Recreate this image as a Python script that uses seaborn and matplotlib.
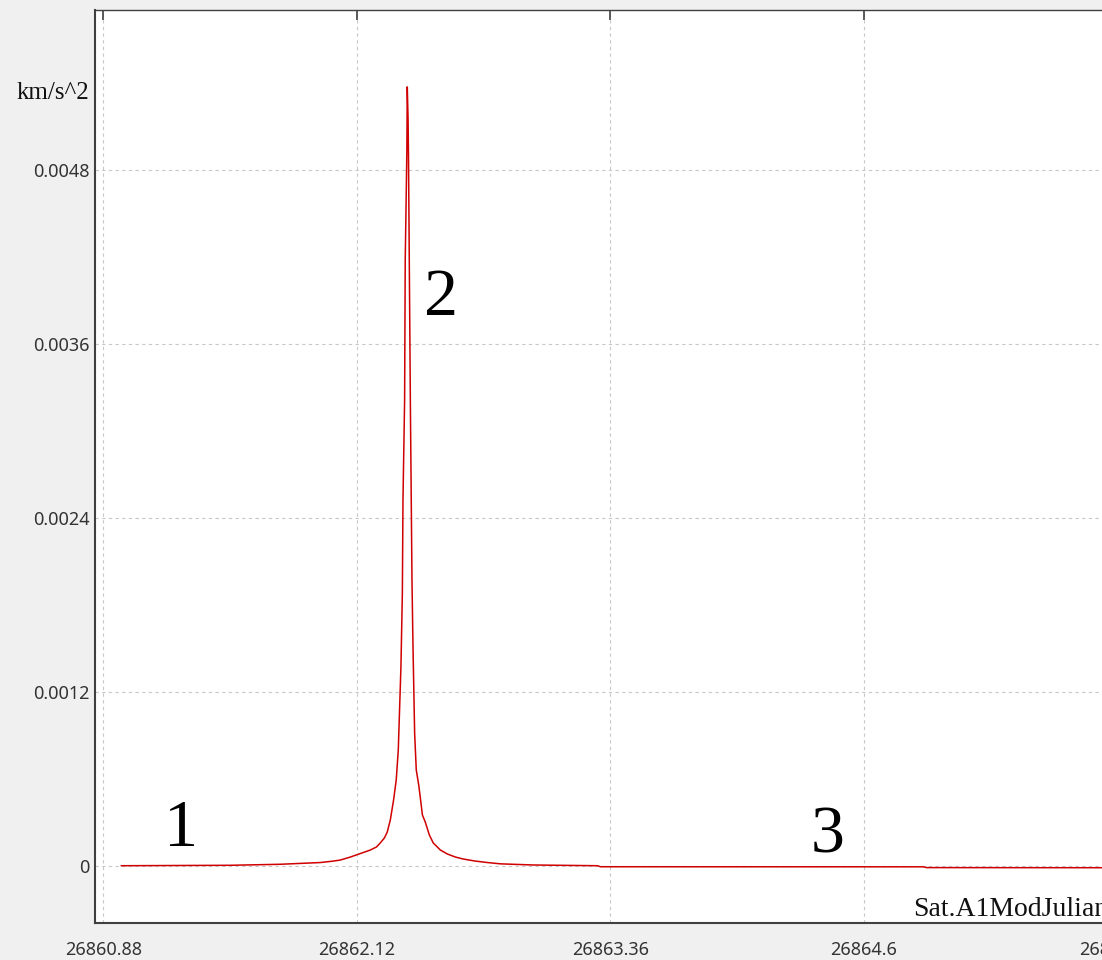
import matplotlib
matplotlib.use("Agg")
import matplotlib.pyplot as plt
import seaborn as sns
import pandas as pd

# ---- data ----
mjd = [26860.968, 26861.501, 26861.746, 26861.942, 26862.000, 26862.039,
       26862.089, 26862.186, 26862.216, 26862.235, 26862.255, 26862.269,
       26862.284, 26862.300, 26862.313, 26862.323, 26862.336, 26862.343,
       26862.346, 26862.354, 26862.357, 26862.360, 26862.365, 26862.367,
       26862.371, 26862.373, 26862.382, 26862.385, 26862.390, 26862.395,
       26862.403, 26862.411, 26862.423, 26862.431, 26862.441, 26862.455,
       26862.475, 26862.494, 26862.529, 26862.563, 26862.602, 26862.641,
       26862.700, 26862.759, 26862.822, 26862.984, 26863.297, 26863.312,
       26864.892, 26864.906, 26865.950]
accel = [0.000002, 0.000005, 0.000012, 0.000024, 0.000033, 0.000041,
         0.000062, 0.000110, 0.000131, 0.000159, 0.000193, 0.000234,
         0.000317, 0.000455, 0.000593, 0.000800, 0.001372, 0.001883,
         0.002524, 0.003214, 0.004180, 0.004455, 0.004938, 0.005373,
         0.005145, 0.004890, 0.003214, 0.002752, 0.001972, 0.001510,
         0.000917, 0.000662, 0.000559, 0.000469, 0.000352, 0.000303,
         0.000214, 0.000159, 0.000110, 0.000083, 0.000062, 0.000048,
         0.000034, 0.000024, 0.000015, 0.000007, 0.000002, -0.000005,
         -0.0000055, -0.000011, -0.000012]

x_ticks = [26860.88, 26862.12, 26863.36, 26864.6, 26865.84]
x_tick_labels = ["26860.88", "26862.12", "26863.36", "26864.6", "26865.84"]
y_ticks = [0, 0.0012, 0.0024, 0.0036, 0.0048]
y_tick_labels = ["0", "0.0012", "0.0024", "0.0036", "0.0048"]

annot_labels = ["1", "2", "3"]
annot_x = [26861.262, 26862.534, 26864.420]
annot_y = [0.000138, 0.0038, 0.0000966]

x_label = "Sat.A1ModJulian"
y_label = "km/s^2"

df = pd.DataFrame({"mjd": mjd, "accel": accel})

# ---- style ----
sns.set_style("white")
plt.rcParams["font.family"] = ["Noto Sans", "DejaVu Sans"]

W, H = 1102, 960
fig = plt.figure(figsize=(W / 100, H / 100), dpi=100, facecolor="#f0f0f0")
ax_l, ax_t, ax_b, ax_r = 95, 10, 923, 1140
ax = fig.add_axes([ax_l / W, (H - ax_b) / H, (ax_r - ax_l) / W, (ax_b - ax_t) / H])
ax.set_facecolor("white")

sns.lineplot(data=df, x="mjd", y="accel", ax=ax, color="#d00000",
             linewidth=1.1, estimator=None, sort=True)

ax.set_xlim(26860.84, 26865.95)
ax.set_ylim(-0.000393, 0.0059034)

ax.set_xticks(x_ticks)
ax.set_xticklabels(x_tick_labels)
ax.set_yticks(y_ticks)
ax.set_yticklabels(y_tick_labels)

ax.grid(True, color="#c8c8c8", linestyle=(0, (3, 3)), linewidth=0.8)

ax.tick_params(axis="x", direction="in", length=7, width=1.2, color="#404040",
               labelsize=13, labelcolor="#333333", pad=13, top=True)
ax.tick_params(axis="y", direction="in", length=7, width=1.2, color="#404040",
               labelsize=13, labelcolor="#333333", pad=4)

for side in ["left", "bottom"]:
    ax.spines[side].set_color("#404040")
    ax.spines[side].set_linewidth(1.5)
ax.spines["top"].set_color("#404040")
ax.spines["top"].set_linewidth(1.0)
ax.spines["right"].set_visible(False)

serif = ["Liberation Serif", "DejaVu Serif"]
ax.set_xlabel(x_label, family=serif, fontsize=20, color="#111111",
              ha="left", va="baseline")
ax.xaxis.set_label_coords((913 - ax_l) / (ax_r - ax_l), (ax_b - 916) / (ax_b - ax_t))
ax.set_ylabel(y_label, family=serif, fontsize=18, color="#111111",
              rotation=0, ha="left", va="baseline")
ax.yaxis.set_label_coords((17 - ax_l) / (ax_r - ax_l), (ax_b - 99) / (ax_b - ax_t))

for lab, xx, yy in zip(annot_labels, annot_x, annot_y):
    ax.text(xx, yy, lab, family=serif, fontsize=49, color="black",
            ha="center", va="baseline")

fig.savefig("out.png", dpi=100, facecolor=fig.get_facecolor())
